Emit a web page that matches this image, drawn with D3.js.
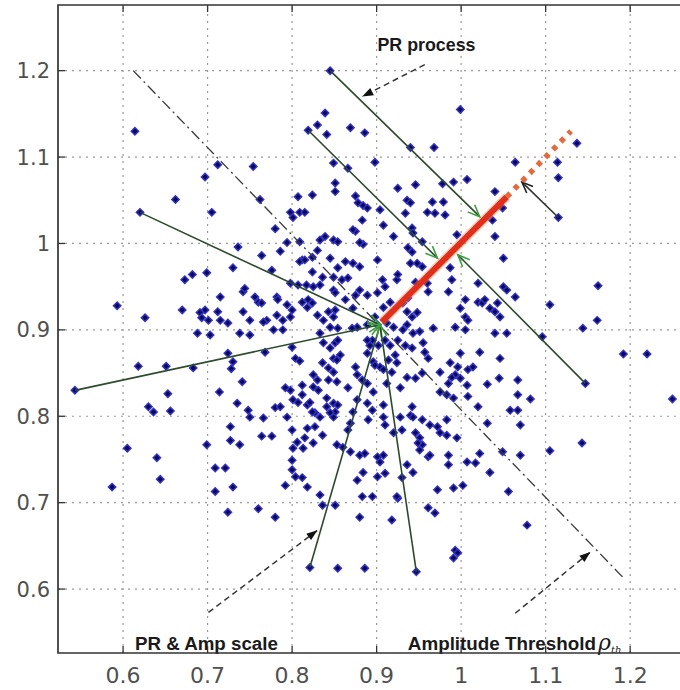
<!DOCTYPE html>
<html>
<head>
<meta charset="utf-8">
<script src="https://cdn.jsdelivr.net/npm/d3@7"></script>
<style>
  body { margin: 0; background: #fff; }
  svg { display: block; }
</style>
</head>
<body>
<svg id="chart" width="680" height="690"></svg>
<script>
// ---- data ----
const xTicks = [0.6, 0.7, 0.8, 0.9, 1.0, 1.1, 1.2];
const yTicks = [0.6, 0.7, 0.8, 0.9, 1.0, 1.1, 1.2];
const xTickLabels = ["0.6", "0.7", "0.8", "0.9", "1", "1.1", "1.2"];
const yTickLabels = ["0.6", "0.7", "0.8", "0.9", "1", "1.1", "1.2"];

// sample cloud, split in three bands
const cloudTop = [
  [0.614,1.130],[0.845,1.200],[0.819,1.131],[0.830,1.137],[0.839,1.151],[0.841,1.126],[0.849,1.093],[0.851,1.070],
  [0.851,1.060],[0.754,1.089],[0.712,1.091],[0.697,1.077],[0.705,1.036],[0.662,1.051],[0.620,1.036],[0.762,1.051],
  [0.807,1.054],[0.824,1.056],[0.999,1.155],[0.869,1.134],[0.886,1.128],[0.940,1.111],[0.968,1.111],[0.898,1.094],
  [0.866,1.087],[1.064,1.094],[1.114,1.094],[1.137,1.116],[1.115,1.076],[1.040,1.060],[0.978,1.069],[0.991,1.071],
  [1.007,1.074],[0.925,1.064],[0.946,1.068],[0.875,1.055],[0.878,1.047],[0.884,1.044],[0.889,1.041],
  [0.798,1.036],[0.801,1.030],[0.809,1.036],[0.815,1.036],[0.780,1.017],[0.736,0.996],[0.764,0.986],[0.786,0.991],
  [0.794,1.001],[0.809,1.002],[0.833,1.004],[0.839,1.008],[0.849,1.004],[0.854,1.002],[0.830,0.992],[0.845,0.983],
  [0.812,0.981],[0.824,0.984],[0.904,1.039],[0.883,1.027],[0.908,1.021],[0.875,1.014],[0.884,0.999],[0.936,1.050],
  [0.940,1.047],[0.966,1.048],[0.979,1.048],[0.934,1.035],[0.960,1.036],[0.969,1.035],[0.981,1.033],[0.942,1.018],
  [0.943,1.012],[0.920,1.008],[0.954,1.002],[0.937,0.995],[0.942,0.990],[0.995,1.010],[1.040,1.008],[1.037,1.027],
  [1.049,1.041],[1.115,1.030],[0.872,1.016],[0.880,1.001]
];
const cloudMid = [
  [0.836,0.961],[0.849,0.961],[0.776,0.969],[0.730,0.972],[0.699,0.966],[0.673,0.958],[0.682,0.964],[0.807,0.952],
  [0.825,0.950],[0.833,0.952],[0.819,0.935],[0.812,0.932],[0.824,0.931],[0.849,0.946],[0.715,0.938],[0.742,0.944],
  [0.756,0.938],[0.760,0.932],[0.782,0.938],[0.794,0.929],[0.800,0.923],[0.670,0.923],[0.691,0.920],[0.697,0.923],
  [0.693,0.914],[0.701,0.911],[0.712,0.921],[0.715,0.911],[0.742,0.921],[0.750,0.911],[0.770,0.911],[0.782,0.917],
  [0.789,0.911],[0.830,0.917],[0.837,0.911],[0.843,0.921],[0.593,0.928],[0.626,0.914],[0.688,0.896],[0.703,0.894],
  [0.738,0.896],[0.750,0.894],[0.778,0.900],[0.833,0.896],[0.809,0.979],[0.815,0.981],[0.872,0.977],[0.880,0.973],
  [0.824,0.967],[0.854,0.972],[0.866,0.960],[0.907,0.958],[0.744,0.948],[0.798,0.954],[0.817,0.952],[0.851,0.943],
  [0.875,0.940],[0.889,0.940],[0.901,0.943],[0.764,0.931],[0.783,0.935],[0.818,0.926],[0.851,0.923],[0.849,0.915],
  [0.872,0.925],[0.908,0.926],[0.798,0.915],[0.766,0.909],[0.724,0.908],[0.845,0.903],[0.854,0.902],[0.789,0.900],
  [0.877,0.903],[0.898,0.915],[0.889,0.906],
  [0.948,0.977],[0.954,0.973],[0.987,0.972],[1.050,0.983],[0.924,0.958],[0.946,0.955],[0.961,0.944],[0.989,0.958],
  [1.020,0.954],[1.050,0.950],[1.054,0.946],[1.064,0.938],[0.916,0.932],[0.985,0.944],[1.005,0.935],[1.020,0.932],
  [1.025,0.931],[1.043,0.931],[0.936,0.921],[0.942,0.915],[0.948,0.920],[0.999,0.925],[1.005,0.915],[1.034,0.925],
  [1.040,0.921],[1.046,0.915],[0.912,0.908],[0.920,0.903],[0.936,0.906],[0.943,0.896],[0.951,0.898],[0.993,0.903],
  [1.005,0.900],[1.054,0.896],[1.040,0.896],[1.096,0.892],
  [0.863,0.979],[0.901,0.981],[0.940,0.977],[0.859,0.958],[0.910,0.950],[0.925,0.964],[0.960,0.954],[0.863,0.935],
  [0.880,0.946],[0.937,0.937],[0.931,0.931],[1.008,0.911],[1.028,0.935],[1.105,0.929],[1.144,0.902],[1.161,0.911],
  [1.162,0.951],[0.871,0.902],[0.901,0.906],[0.931,0.900],[0.967,0.902],
  [0.910,0.888],[0.916,0.882],[0.902,0.882],[0.895,0.888],[0.925,0.888],[0.934,0.882]
];
const cloudLow = [
  [0.543,0.830],
  [0.618,0.858],[0.651,0.858],[0.683,0.856],[0.724,0.873],[0.728,0.855],[0.741,0.840],[0.768,0.874],[0.800,0.880],
  [0.804,0.867],[0.630,0.811],[0.636,0.805],[0.653,0.826],[0.656,0.806],[0.714,0.828],[0.735,0.815],[0.748,0.807],
  [0.750,0.799],[0.766,0.798],[0.780,0.810],[0.786,0.811],[0.792,0.833],[0.801,0.819],[0.794,0.799],[0.812,0.825],
  [0.818,0.813],[0.825,0.834],[0.830,0.842],[0.836,0.862],[0.843,0.856],[0.849,0.867],[0.849,0.851],[0.831,0.830],
  [0.841,0.821],[0.849,0.815],[0.851,0.805],[0.827,0.804],[0.833,0.799],[0.853,0.840],
  [0.730,0.863],[0.809,0.864],[0.837,0.885],[0.845,0.879],[0.851,0.885],[0.854,0.888],[0.857,0.871],[0.853,0.865],
  [0.825,0.848],[0.843,0.842],[0.875,0.857],[0.877,0.848],[0.883,0.842],[0.889,0.873],[0.896,0.863],[0.904,0.857],
  [0.889,0.888],[0.892,0.882],[0.812,0.836],[0.798,0.830],[0.807,0.816],[0.821,0.816],[0.824,0.805],[0.841,0.811],
  [0.845,0.804],[0.854,0.813],[0.849,0.799],[0.866,0.833],[0.889,0.838],[0.896,0.828],[0.912,0.838],[0.877,0.819],
  [0.872,0.805],[0.869,0.792],[0.889,0.815],[0.895,0.807],[0.908,0.813],[0.908,0.799],[0.890,0.796],
  [0.605,0.763],[0.587,0.718],[0.640,0.752],[0.644,0.727],[0.699,0.767],[0.709,0.740],[0.721,0.740],[0.709,0.713],
  [0.730,0.718],[0.724,0.689],[0.727,0.788],[0.727,0.772],[0.738,0.767],[0.764,0.777],[0.776,0.777],[0.760,0.693],
  [0.780,0.683],[0.792,0.720],[0.804,0.730],[0.812,0.729],[0.818,0.718],[0.800,0.749],[0.800,0.738],[0.801,0.763],
  [0.800,0.784],[0.806,0.770],[0.813,0.763],[0.815,0.775],[0.825,0.769],[0.827,0.788],[0.836,0.778],[0.833,0.709],
  [0.836,0.697],[0.821,0.625],[0.854,0.624],[0.853,0.767],[0.851,0.697],[0.818,0.786],[0.866,0.784],[0.869,0.759],
  [0.880,0.755],[0.901,0.753],[0.877,0.726],[0.884,0.735],[0.901,0.730],[0.910,0.734],[0.895,0.707],[0.883,0.707],
  [1.143,0.769],[1.105,0.760],[1.078,0.674],[1.056,0.713],[1.070,0.755],[1.082,0.820],[1.067,0.842],[1.067,0.825],
  [1.070,0.790],[1.058,0.807],[1.067,0.807],[1.046,0.867],[1.022,0.874],[1.045,0.844],[1.031,0.837],[0.999,0.873],
  [0.975,0.851],[0.987,0.862],[0.993,0.848],[0.996,0.857],[1.007,0.836],[0.975,0.828],[0.983,0.825],[0.991,0.821],
  [1.008,0.823],[1.020,0.811],[1.031,0.792],[1.049,0.759],[1.022,0.757],[1.034,0.735],[0.985,0.744],[0.985,0.755],
  [1.007,0.747],[1.017,0.746],[0.972,0.788],[0.963,0.790],[0.975,0.781],[0.983,0.778],[0.995,0.775],[0.983,0.796],
  [1.002,0.720],[0.991,0.717],[0.972,0.715],[0.961,0.694],[0.969,0.688],[0.993,0.645],[0.996,0.642],[0.991,0.636],
  [0.947,0.620],[0.918,0.680],[0.880,0.683],[0.886,0.624],[0.925,0.705],[0.930,0.729],[0.886,0.757],[0.860,0.764],
  [0.920,0.781],[0.930,0.784],[0.928,0.833],[0.936,0.845],[0.946,0.844],[0.961,0.867],[0.910,0.790],[0.940,0.801],
  [0.954,0.796],[0.942,0.811],[0.946,0.781],[0.951,0.775],[0.954,0.767],[0.961,0.753],[0.936,0.744],[0.943,0.735],
  [0.955,0.885],[0.942,0.879],[0.957,0.874],[0.922,0.871],[0.924,0.862],[0.989,0.845],[0.985,0.838],[0.999,0.844],
  [1.008,0.854],[1.014,0.857],[0.954,0.850],[0.908,0.854],[0.943,0.799],[0.949,0.769],[0.928,0.799],[0.963,0.755],
  [0.951,0.761],[0.908,0.755],[0.904,0.747],[0.924,0.707],[0.914,0.865],[0.898,0.859],[0.918,0.851],
  [1.192,0.872],[1.220,0.872],[1.250,0.820],[1.147,0.838]
];

// annotation geometry, data units
const greenArrows = [
  [[0.543,0.830],[0.904,0.906]],
  [[0.620,1.036],[0.904,0.906]],
  [[0.821,0.625],[0.904,0.906]],
  [[0.947,0.620],[0.904,0.906]],
  [[0.845,1.200],[1.022,1.031]],
  [[0.819,1.131],[0.972,0.983]],
  [[1.147,0.838],[0.996,0.987]]
];
const blackArrow = [[1.115,1.030],[1.072,1.071]];
const redSolid = [[0.906,0.909],[1.054,1.054]];
const redDotted = [[1.054,1.054],[1.130,1.130]];
const thresholdLine = [[0.612,1.200],[1.192,0.613]];
const callouts = [
  [[0.957,1.207],[0.883,1.170]],
  [[0.701,0.573],[0.830,0.668]],
  [[1.064,0.572],[1.153,0.643]]
];
const labels = [
  {text: "PR process", at: [0.901,1.223], width: 98},
  {text: "PR & Amp scale", at: [0.614,0.529], width: 143},
  {text: "Amplitude Threshold", at: [0.937,0.529], width: 188}
];

// ---- drawing ----
const svg = d3.select("#chart");
const x = d3.scaleLinear().domain([0.523, 1.285]).range([58, 702]);
const y = d3.scaleLinear().domain([0.526, 1.276]).range([653, 5]);
const [x0, x1] = x.range();
const [y0, y1] = y.range();

const defs = svg.append("defs");
defs.append("clipPath").attr("id", "plot")
  .append("rect").attr("x", x0).attr("y", y1).attr("width", x1 - x0).attr("height", y0 - y1);

function arrowMarker(id, d, stroke, fill) {
  defs.append("marker")
    .attr("id", id)
    .attr("viewBox", "-13 -7 15 14")
    .attr("refX", 0).attr("refY", 0)
    .attr("markerWidth", 15).attr("markerHeight", 14)
    .attr("markerUnits", "userSpaceOnUse")
    .attr("orient", "auto")
    .append("path")
    .attr("d", d)
    .attr("fill", fill)
    .attr("stroke", stroke)
    .attr("stroke-width", 1.6);
}
arrowMarker("headGreen", "M-12,-5L0,0L-12,5", "#3f9f3f", "none");
arrowMarker("headBlack", "M-11,-4.5L0,0L-11,4.5", "#222", "none");
arrowMarker("headSolid", "M-11,-4L0,0L-11,4Z", "none", "#111");

// grid
const grid = svg.append("g");
grid.selectAll(".gx").data(xTicks).enter().append("line")
  .attr("x1", d => x(d)).attr("x2", d => x(d))
  .attr("y1", y0).attr("y2", y1)
  .attr("stroke", "#9a9a9a").attr("stroke-width", 1.2).attr("stroke-dasharray", "2,5");
grid.selectAll(".gy").data(yTicks).enter().append("line")
  .attr("y1", d => y(d)).attr("y2", d => y(d))
  .attr("x1", x0).attr("x2", x1)
  .attr("stroke", "#9a9a9a").attr("stroke-width", 1.2).attr("stroke-dasharray", "2,5");

const plot = svg.append("g").attr("clip-path", "url(#plot)");

// scatter
const samples = cloudTop.concat(cloudMid, cloudLow);
plot.append("g").selectAll("path").data(samples).enter().append("path")
  .attr("d", d3.symbol().type(d3.symbolSquare).size(28))
  .attr("transform", d => `translate(${x(d[0])},${y(d[1])}) rotate(45)`)
  .attr("fill", "#0a0a58")
  .attr("stroke", "#3434c8")
  .attr("stroke-width", 1.4);

const seg = d3.line().x(d => x(d[0])).y(d => y(d[1]));

// threshold (dash-dot)
plot.append("path").attr("d", seg(thresholdLine))
  .attr("fill", "none").attr("stroke", "#3a3a3a").attr("stroke-width", 1.3)
  .attr("stroke-dasharray", "11,4,2,4");

// green arrows
plot.append("g").selectAll("path").data(greenArrows).enter().append("path")
  .attr("d", d => seg(d))
  .attr("fill", "none").attr("stroke", "#2c4a2c").attr("stroke-width", 1.6)
  .attr("marker-end", "url(#headGreen)");

plot.append("path").attr("d", seg(blackArrow))
  .attr("fill", "none").attr("stroke", "#333").attr("stroke-width", 1.6)
  .attr("marker-end", "url(#headBlack)");

// red path
plot.append("path").attr("d", seg(redSolid))
  .attr("fill", "none").attr("stroke", "#f08a60").attr("stroke-width", 9).attr("opacity", 0.45);
plot.append("path").attr("d", seg(redSolid))
  .attr("fill", "none").attr("stroke", "#e0301c").attr("stroke-width", 6);
plot.append("path").attr("d", seg(redDotted))
  .attr("fill", "none").attr("stroke", "#e36a3e").attr("stroke-width", 5.5)
  .attr("stroke-dasharray", "5,6");

// dashed callouts
plot.append("g").selectAll("path").data(callouts).enter().append("path")
  .attr("d", d => seg(d))
  .attr("fill", "none").attr("stroke", "#333").attr("stroke-width", 1.5)
  .attr("stroke-dasharray", "6,4")
  .attr("marker-end", "url(#headSolid)");

// callout texts
svg.append("g").selectAll("text").data(labels).enter().append("text")
  .attr("x", d => x(d.at[0])).attr("y", d => y(d.at[1]))
  .attr("textLength", d => d.width).attr("lengthAdjust", "spacingAndGlyphs")
  .attr("font-family", "'Liberation Sans', Arial, sans-serif")
  .attr("font-weight", "bold").attr("font-size", 18).attr("fill", "#1a1a1a")
  .text(d => d.text);

const rho = svg.append("text")
  .attr("x", x(1.162)).attr("y", y(0.529))
  .attr("font-family", "'DejaVu Serif', serif").attr("font-style", "italic")
  .attr("font-size", 22).attr("fill", "#1a1a1a");
rho.append("tspan").text("ρ");
rho.append("tspan").attr("font-size", 10).attr("dy", 3).text("th");

// frame and ticks
svg.append("path")
  .attr("d", `M${x1},${y1}H${x0}V${y0}H${x1}`)
  .attr("fill", "none").attr("stroke", "#333").attr("stroke-width", 1.7);
const tk = svg.append("g").attr("stroke", "#333").attr("stroke-width", 1.3);
xTicks.forEach(v => {
  tk.append("line").attr("x1", x(v)).attr("x2", x(v)).attr("y1", y0).attr("y2", y0 - 7);
  tk.append("line").attr("x1", x(v)).attr("x2", x(v)).attr("y1", y1).attr("y2", y1 + 7);
});
yTicks.forEach(v => {
  tk.append("line").attr("x1", x0).attr("x2", x0 + 7).attr("y1", y(v)).attr("y2", y(v));
});

// tick labels
svg.append("g").selectAll("text").data(xTicks).enter().append("text")
  .attr("x", d => x(d)).attr("y", y0 + 30)
  .attr("text-anchor", "middle")
  .attr("font-family", "'DejaVu Sans', sans-serif").attr("font-size", 22)
  .attr("fill", "#505050")
  .text((d, i) => xTickLabels[i]);
svg.append("g").selectAll("text").data(yTicks).enter().append("text")
  .attr("x", x0 - 8).attr("y", d => y(d) + 7.5)
  .attr("text-anchor", "end")
  .attr("font-family", "'DejaVu Sans', sans-serif").attr("font-size", 21)
  .attr("fill", "#505050")
  .text((d, i) => yTickLabels[i]);
</script>
</body>
</html>
